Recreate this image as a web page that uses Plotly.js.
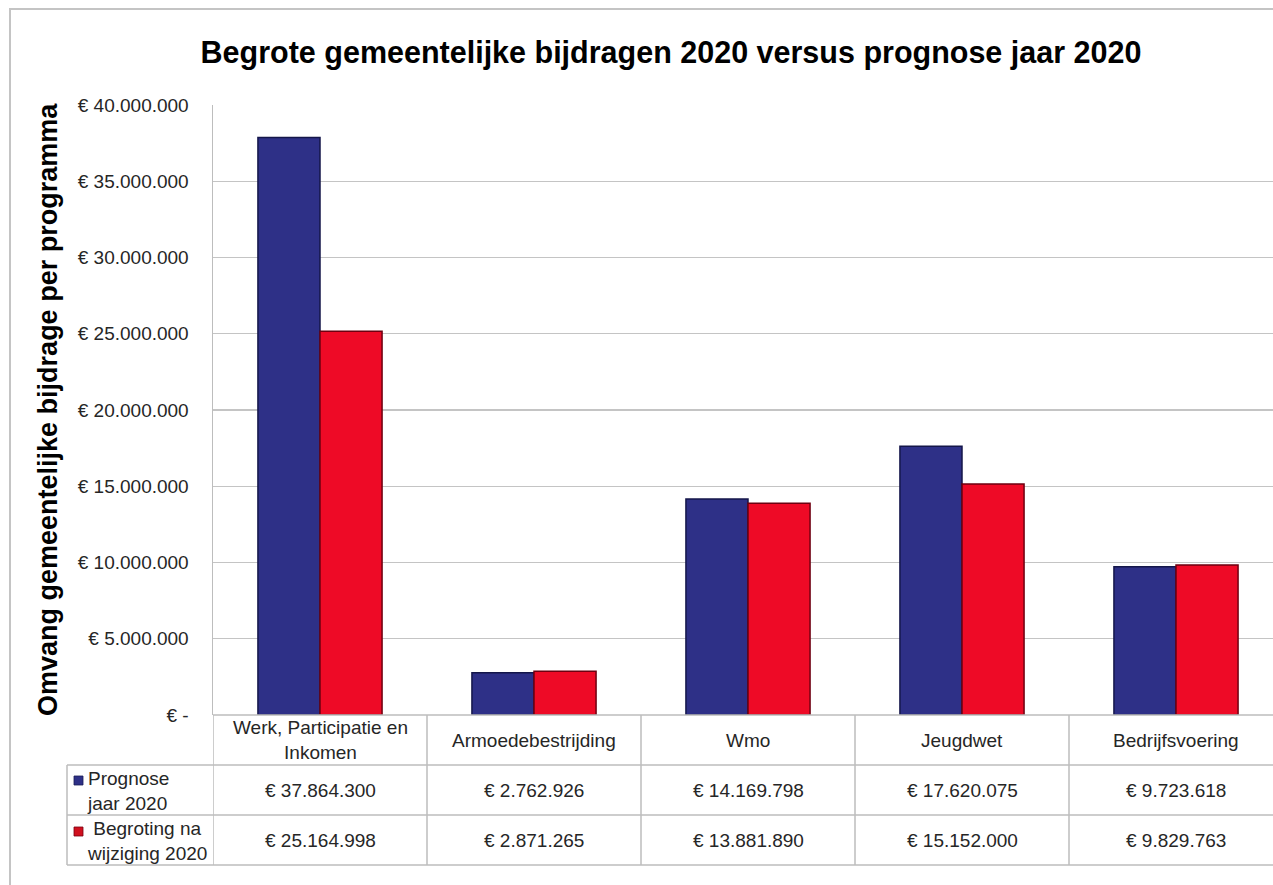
<!DOCTYPE html>
<html>
<head>
<meta charset="utf-8">
<script src="https://cdn.plot.ly/plotly-3.0.1.min.js"></script>
<style>
html,body{margin:0;padding:0;background:#fff;overflow:hidden;}
#chart{width:1290px;height:885px;}
</style>
</head>
<body>
<div id="chart"></div>
<script>
const categories = ["Werk, Participatie en Inkomen", "Armoedebestrijding", "Wmo", "Jeugdwet", "Bedrijfsvoering"];
const categoryLabels = ["Werk, Participatie en<br>Inkomen", "Armoedebestrijding", "Wmo", "Jeugdwet", "Bedrijfsvoering"];
const prognose = [37864300, 2762926, 14169798, 17620075, 9723618];
const begroting = [25164998, 2871265, 13881890, 15152000, 9829763];
const seriesNames = ["Prognose<br>jaar 2020", " Begroting na<br>wijziging 2020"];
const tickValues = [0, 5000000, 10000000, 15000000, 20000000, 25000000, 30000000, 35000000, 40000000];
const tickLabels = ["€ -", "€ 5.000.000", "€ 10.000.000", "€ 15.000.000", "€ 20.000.000", "€ 25.000.000", "€ 30.000.000", "€ 35.000.000", "€ 40.000.000"];

const BLUE = "#2e3087", RED = "#ee0a26";
const fmt = v => "€ " + String(v).replace(/\B(?=(\d{3})+(?!\d))/g, ".");

const traces = [
  {type:"bar", x:categories, y:prognose, name:"Prognose jaar 2020",
   marker:{color:BLUE, line:{color:"#14164a", width:1.5}}},
  {type:"bar", x:categories, y:begroting, name:"Begroting na wijziging 2020",
   marker:{color:RED, line:{color:"#6e0010", width:1.5}}}
];

// geometry (paper coords)
const plotTop = 105, plotBot = 715, plotL = 213, plotR = 1283;
const H = plotBot - plotTop, W = plotR - plotL;
const py = px => (plotBot - px) / H;
const pxx = px => (px - plotL) / W;

const FONT = "Liberation Sans, Arial, sans-serif";
const grey = "#bdbdbd";
const shapes = [];
// outer border
shapes.push({type:"rect", xref:"paper", yref:"paper", x0:pxx(10), x1:pxx(1300), y0:py(900), y1:py(9),
  line:{color:"#c4c4c4", width:2}, layer:"below"});
// table horizontal lines
shapes.push({type:"line", xref:"paper", yref:"paper", x0:0, x1:1, y0:py(715), y1:py(715), line:{color:grey, width:1.5}});
[765, 815, 865].forEach(yy => shapes.push({type:"line", xref:"paper", yref:"paper", x0:pxx(67), x1:1, y0:py(yy), y1:py(yy), line:{color:grey, width:1.5}}));
// left label column border
shapes.push({type:"line", xref:"paper", yref:"paper", x0:pxx(67), x1:pxx(67), y0:py(765), y1:py(865), line:{color:grey, width:1.5}});
// vertical separators
for (let i = 0; i <= categories.length; i++) {
  shapes.push({type:"line", xref:"x", yref:"paper", x0:i-0.5, x1:i-0.5, y0:py(865), y1:py(715), line:{color:grey, width:1.5}});
}
// legend keys
shapes.push({type:"rect", xref:"paper", yref:"paper", x0:pxx(74), x1:pxx(83), y0:py(785), y1:py(776), fillcolor:BLUE, line:{color:"#1a1c55", width:0.8}});
shapes.push({type:"rect", xref:"paper", yref:"paper", x0:pxx(74), x1:pxx(83), y0:py(836), y1:py(827), fillcolor:"#d0101e", line:{color:"#7a0010", width:0.8}});

const tf = {family:FONT, size:19, color:"#262626"};
const annotations = [];
categories.forEach((c, i) => {
  annotations.push({xref:"x", yref:"paper", x:c, y:py(740), text:categoryLabels[i], showarrow:false, font:tf, xanchor:"center", yanchor:"middle"});
  annotations.push({xref:"x", yref:"paper", x:c, y:py(790), text:fmt(prognose[i]), showarrow:false, font:tf, xanchor:"center", yanchor:"middle"});
  annotations.push({xref:"x", yref:"paper", x:c, y:py(840), text:fmt(begroting[i]), showarrow:false, font:tf, xanchor:"center", yanchor:"middle"});
});
annotations.push({xref:"paper", yref:"paper", x:pxx(85), y:py(791), text:seriesNames[0], showarrow:false, font:tf, xanchor:"left", yanchor:"middle", align:"left"});
annotations.push({xref:"paper", yref:"paper", x:pxx(85), y:py(841), text:seriesNames[1], showarrow:false, font:tf, xanchor:"left", yanchor:"middle", align:"left"});
// y axis title
annotations.push({xref:"paper", yref:"paper", x:pxx(48), y:py(410), text:"<b>Omvang gemeentelijke bijdrage per programma</b>", textangle:-90,
  showarrow:false, font:{family:FONT, size:27, color:"#000"}, xanchor:"center", yanchor:"middle"});

const layout = {
  width:1290, height:885,
  margin:{l:plotL, r:1290-plotR, t:plotTop, b:885-plotBot, pad:0},
  paper_bgcolor:"#fff", plot_bgcolor:"#fff",
  title:{text:"<b>Begrote gemeentelijke bijdragen 2020 versus prognose jaar 2020</b>", x:671/1290, xref:"container", xanchor:"center",
    y:1-52/885, yref:"container", yanchor:"middle", font:{family:FONT, size:30.5, color:"#000"}},
  showlegend:false,
  barmode:"group", bargap:0.42, bargroupgap:0,
  xaxis:{type:"category", showticklabels:false, showgrid:false, zeroline:false, showline:false, ticks:"", range:[-0.5, 4.5]},
  yaxis:{range:[0, 40000000], tickvals:tickValues, ticktext:tickLabels, showgrid:true, gridcolor:"#c4c4c4", gridwidth:1.2,
    zeroline:false, showline:true, linecolor:grey, linewidth:1.5, ticks:"", ticklabelstandoff:19,
    tickfont:{family:FONT, size:19, color:"#262626"}},
  shapes:shapes, annotations:annotations
};

Plotly.newPlot("chart", traces, layout, {displayModeBar:false, staticPlot:true});
</script>
</body>
</html>
